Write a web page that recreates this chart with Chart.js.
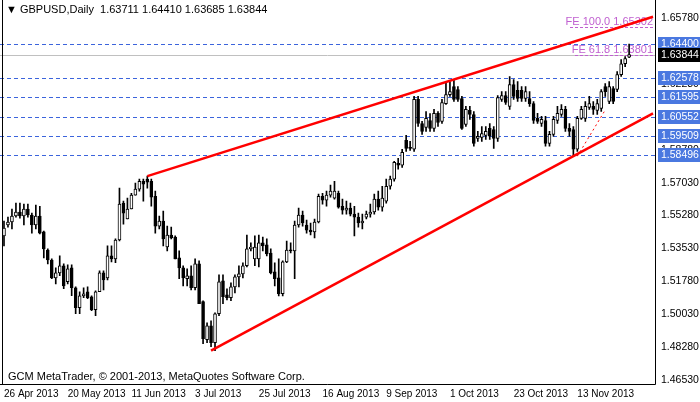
<!DOCTYPE html>
<html><head><meta charset="utf-8">
<script src="https://cdn.jsdelivr.net/npm/chart.js@4.4.0/dist/chart.umd.min.js"></script>
<style>html,body{margin:0;padding:0;background:#fff}#w{width:700px;height:402px}</style>
</head><body><div id="w"><canvas id="c"></canvas></div>
<script>
const opens=[1.5420,1.5478,1.5494,1.5526,1.5547,1.5526,1.5563,1.5531,1.5478,1.5526,1.5441,1.5345,1.5292,1.5197,1.5223,1.5261,1.5176,1.5250,1.5144,1.5038,1.5101,1.5123,1.5096,1.5027,1.5123,1.5223,1.5197,1.5314,1.5298,1.5398,1.5594,1.5510,1.5563,1.5637,1.5669,1.5711,1.5722,1.5711,1.5631,1.5472,1.5499,1.5361,1.5425,1.5414,1.5303,1.5250,1.5192,1.5208,1.5144,1.5271,1.5070,1.4868,1.4941,1.4852,1.5006,1.5181,1.5107,1.5091,1.5149,1.5202,1.5218,1.5261,1.5351,1.5298,1.5298,1.5383,1.5372,1.5329,1.5229,1.5197,1.5112,1.5282,1.5345,1.5340,1.5478,1.5531,1.5478,1.5451,1.5441,1.5494,1.5631,1.5610,1.5637,1.5621,1.5647,1.5578,1.5557,1.5568,1.5536,1.5520,1.5489,1.5520,1.5536,1.5547,1.5616,1.5573,1.5605,1.5684,1.5722,1.5806,1.5796,1.5928,1.5891,1.5881,1.6146,1.6018,1.5997,1.6034,1.5992,1.6072,1.6029,1.6124,1.6172,1.6215,1.6199,1.6151,1.6013,1.6088,1.6066,1.5939,1.5944,1.5955,1.5992,1.5986,1.5939,1.6146,1.6167,1.6109,1.6225,1.6194,1.6194,1.6151,1.6151,1.6124,1.6045,1.6018,1.6034,1.5912,1.5960,1.6034,1.6066,1.6093,1.5992,1.5986,1.5881,1.6045,1.6045,1.6103,1.6109,1.6088,1.6098,1.6215,1.6135,1.6204,1.6199,1.6278,1.6336,1.63711];
const highs=[1.5499,1.5520,1.5563,1.5594,1.5594,1.5589,1.5589,1.5541,1.5584,1.5578,1.5446,1.5351,1.5298,1.5250,1.5314,1.5271,1.5266,1.5266,1.5149,1.5123,1.5144,1.5149,1.5101,1.5128,1.5234,1.5234,1.5367,1.5367,1.5404,1.5674,1.5605,1.5621,1.5647,1.5701,1.5722,1.5722,1.5738,1.5722,1.5658,1.5526,1.5552,1.5472,1.5467,1.5420,1.5340,1.5261,1.5245,1.5261,1.5298,1.5287,1.5075,1.4957,1.4968,1.5011,1.5213,1.5213,1.5139,1.5170,1.5213,1.5261,1.5277,1.5425,1.5383,1.5420,1.5425,1.5414,1.5404,1.5351,1.5277,1.5298,1.5287,1.5393,1.5383,1.5499,1.5568,1.5552,1.5504,1.5488,1.5510,1.5642,1.5647,1.5658,1.5690,1.5711,1.5658,1.5616,1.5605,1.5594,1.5578,1.5541,1.5536,1.5552,1.5589,1.5642,1.5658,1.5684,1.5722,1.5738,1.5817,1.5833,1.5881,1.5955,1.5923,1.6162,1.6162,1.6029,1.6082,1.6071,1.6093,1.6082,1.6146,1.6241,1.6241,1.6252,1.6215,1.6162,1.6109,1.6109,1.6082,1.5976,1.6002,1.6002,1.6018,1.6002,1.6167,1.6188,1.6188,1.6268,1.6252,1.6241,1.6215,1.6215,1.6188,1.6135,1.6072,1.6056,1.6056,1.5976,1.6056,1.6109,1.6119,1.6109,1.6018,1.6002,1.6056,1.6109,1.6135,1.6162,1.6135,1.6146,1.6199,1.6230,1.6241,1.6215,1.6294,1.6358,1.6374,1.64410];
const lows=[1.5367,1.5467,1.5457,1.5520,1.5515,1.5478,1.5520,1.5435,1.5457,1.5430,1.5303,1.5271,1.5192,1.5165,1.5208,1.5139,1.5165,1.5102,1.5006,1.5006,1.5091,1.5086,1.5022,1.4996,1.5123,1.5133,1.5186,1.5282,1.5277,1.5393,1.5483,1.5510,1.5563,1.5637,1.5658,1.5605,1.5674,1.5578,1.5435,1.5457,1.5367,1.5340,1.5404,1.5298,1.5192,1.5154,1.5154,1.5133,1.5133,1.5059,1.4847,1.4852,1.4831,1.4810,1.4996,1.5059,1.5080,1.5075,1.5117,1.5149,1.5197,1.5255,1.5340,1.5261,1.5255,1.5340,1.5314,1.5218,1.5154,1.5101,1.5101,1.5277,1.5330,1.5192,1.5467,1.5472,1.5435,1.5425,1.5409,1.5489,1.5589,1.5578,1.5626,1.5616,1.5568,1.5536,1.5536,1.5526,1.5420,1.5467,1.5457,1.5510,1.5520,1.5536,1.5557,1.5552,1.5594,1.5669,1.5711,1.5775,1.5785,1.5870,1.5875,1.5870,1.6002,1.5960,1.5976,1.5976,1.5976,1.6002,1.6018,1.6119,1.6162,1.6135,1.6135,1.5986,1.6002,1.6040,1.5897,1.5923,1.5923,1.5934,1.5934,1.5886,1.5923,1.6135,1.6119,1.6093,1.6146,1.6135,1.6135,1.6135,1.6109,1.6018,1.6018,1.6002,1.5897,1.5897,1.5950,1.6018,1.6056,1.5976,1.5950,1.5844,1.5870,1.6040,1.6029,1.6093,1.6066,1.6066,1.6082,1.6162,1.6124,1.6124,1.6188,1.6268,1.6321,1.63685];
const closes=[1.5462,1.5494,1.5526,1.5547,1.5526,1.5563,1.5531,1.5478,1.5526,1.5435,1.5351,1.5292,1.5197,1.5223,1.5261,1.5154,1.5245,1.5144,1.5038,1.5101,1.5112,1.5091,1.5027,1.5123,1.5223,1.5186,1.5314,1.5298,1.5398,1.5589,1.5541,1.5563,1.5637,1.5669,1.5711,1.5695,1.5706,1.5626,1.5472,1.5499,1.5404,1.5425,1.5409,1.5298,1.5250,1.5197,1.5208,1.5144,1.5271,1.5059,1.4873,1.4941,1.4852,1.5006,1.5176,1.5096,1.5091,1.5149,1.5202,1.5218,1.5261,1.5351,1.5361,1.5361,1.5383,1.5367,1.5324,1.5223,1.5192,1.5112,1.5282,1.5345,1.5340,1.5478,1.5531,1.5489,1.5451,1.5441,1.5494,1.5631,1.5610,1.5637,1.5658,1.5658,1.5573,1.5557,1.5568,1.5536,1.5520,1.5489,1.5499,1.5536,1.5547,1.5616,1.5573,1.5621,1.5684,1.5722,1.5812,1.5796,1.5865,1.5886,1.5886,1.6146,1.6018,1.5976,1.6045,1.5992,1.6072,1.6024,1.6130,1.6172,1.6188,1.6146,1.6146,1.5992,1.6093,1.6066,1.5912,1.5950,1.5965,1.5976,1.5950,1.5939,1.6156,1.6167,1.6130,1.6225,1.6162,1.6151,1.6151,1.6188,1.6124,1.6034,1.6029,1.6040,1.5912,1.5960,1.6040,1.6072,1.6093,1.5992,1.5976,1.5881,1.6045,1.6093,1.6109,1.6124,1.6093,1.6124,1.6188,1.6188,1.6215,1.6135,1.6278,1.6336,1.6363,1.63844];
const tickIdx=[0,16,32,48,64,80,96,112,128,144];
const tickLabels=['26 Apr 2013','20 May 2013','11 Jun 2013','3 Jul 2013','25 Jul 2013','16 Aug 2013','9 Sep 2013','1 Oct 2013','23 Oct 2013','13 Nov 2013'];
const yTicks=[1.6578,1.6403,1.6228,1.6053,1.5878,1.5703,1.5528,1.5353,1.5178,1.5003,1.4828,1.4653];
const levels=[1.64400,1.62578,1.61595,1.60552,1.59509,1.58496];
const lastPrice=1.63844;
const feLevels=[1.65302,1.63801];
const feNames=['FE 100.0 1.65302','FE 61.8 1.63801'];
const upperLine=[{x:36,y:1.5738},{x:163,y:1.6586}];
const lowerLine=[{x:52,y:1.4810},{x:163,y:1.6072}];
const fiboLine=[{x:144,y:1.5844},{x:151,y:1.6090}];

const N=164;
const labels=[];for(let i=0;i<N;i++)labels.push(i);
const body=closes.map((c,i)=>[opens[i],c]);
const wick=closes.map((c,i)=>[lows[i],highs[i]]);
const bull=closes.map((c,i)=>c>=opens[i]);
const FONT='"Liberation Sans", Arial, sans-serif';

const deco={id:'deco',
 beforeDatasetsDraw(ch){const {ctx,chartArea:a,scales:{y}}=ch;ctx.save();
  ctx.lineWidth=1;ctx.strokeStyle='#c0c0c0';let py=Math.round(y.getPixelForValue(lastPrice))+0.5;
  ctx.beginPath();ctx.moveTo(0,py);ctx.lineTo(a.right,py);ctx.stroke();
  ctx.strokeStyle='#3c64dc';ctx.setLineDash([4,3]);
  levels.forEach(v=>{const p=Math.round(y.getPixelForValue(v))+0.5;ctx.beginPath();ctx.moveTo(0,p);ctx.lineTo(a.right,p);ctx.stroke();});
  ctx.strokeStyle='#c060d0';ctx.setLineDash([3,2]);
  feLevels.forEach((v,i)=>{const p=Math.round(y.getPixelForValue(v))+0.5;ctx.beginPath();ctx.moveTo(a.right-(i?80:85),p);ctx.lineTo(a.right,p);ctx.stroke();});
  ctx.setLineDash([]);ctx.fillStyle='#c060d0';ctx.font='11px '+FONT;ctx.textAlign='right';ctx.textBaseline='bottom';
  feLevels.forEach((v,i)=>{const p=y.getPixelForValue(v);ctx.fillText(feNames[i],a.right-2,p);});
  ctx.restore();},
 afterDraw(ch){const {ctx,chartArea:a,scales:{y}}=ch;ctx.save();
  ctx.font='10.5px '+FONT;ctx.textBaseline='middle';ctx.textAlign='left';
  const box=(v,bg)=>{const p=Math.round(y.getPixelForValue(v));ctx.fillStyle=bg;ctx.fillRect(a.right+3,p-7,42,14);ctx.fillStyle='#fff';ctx.fillText(v.toFixed(5),a.right+6,p+0.5);};
  levels.forEach(v=>box(v,'#4a78e0'));box(lastPrice,'#000');
  ctx.strokeStyle='#000';ctx.lineWidth=1;ctx.beginPath();ctx.moveTo(a.right+0.5,0);ctx.lineTo(a.right+0.5,a.bottom+0.5);ctx.lineTo(0,a.bottom+0.5);ctx.moveTo(2.5,0);ctx.lineTo(2.5,a.bottom);ctx.stroke();
  ctx.font='11px '+FONT;ctx.fillStyle='#000';ctx.textAlign='left';ctx.fillText('\u25BC GBPUSD,Daily  1.63711 1.64410 1.63685 1.63844',6,10);
  ctx.fillText('GCM MetaTrader, \u00A9 2001-2013, MetaQuotes Software Corp.',8,377);
  ctx.restore();}};

new Chart(document.getElementById('c'),{
 data:{labels,datasets:[
  {type:'line',data:upperLine,borderColor:'#ff0000',borderWidth:2.5,pointRadius:0,order:0},
  {type:'line',data:lowerLine,borderColor:'#ff0000',borderWidth:2.5,pointRadius:0,order:0},
  {type:'line',data:fiboLine,borderColor:'#ff0000',borderWidth:1,borderDash:[2,3],pointRadius:0,order:0},
  {type:'bar',data:wick,backgroundColor:'#000',barThickness:1,grouped:false,order:2},
  {type:'bar',data:body,backgroundColor:bull.map(b=>b?'#fff':'#000'),borderColor:'#000',borderWidth:1,borderSkipped:false,barThickness:3,grouped:false,minBarLength:1,order:1}
 ]},
 options:{responsive:true,maintainAspectRatio:false,animation:false,
  layout:{padding:{left:2,top:0,right:0,bottom:0}},
  plugins:{legend:{display:false},tooltip:{enabled:false}},
  scales:{
   x:{type:'category',offset:true,grid:{display:false,drawTicks:true,tickLength:4,color:'#000'},border:{display:false},
     afterBuildTicks(s){s.ticks=s.ticks.filter(t=>tickIdx.includes(t.value));},
     afterFit(s){s.height=18;},
     ticks:{autoSkip:false,maxRotation:0,align:'start',padding:0,color:'#000',font:{size:10,family:FONT},
       callback(v){const k=tickIdx.indexOf(v);return k>=0?tickLabels[k]:'';}}},
   y:{position:'right',min:1.4632,max:1.6631,grid:{display:false,drawTicks:true,tickLength:4,color:'#000'},border:{display:false},
     afterBuildTicks(s){s.ticks=yTicks.map(v=>({value:v}));},
     afterFit(s){s.width=45;},
     ticks:{padding:2,color:'#000',font:{size:10.5,family:FONT},callback:v=>v.toFixed(5)}}
  }},
 plugins:[deco]});
</script></body></html>
